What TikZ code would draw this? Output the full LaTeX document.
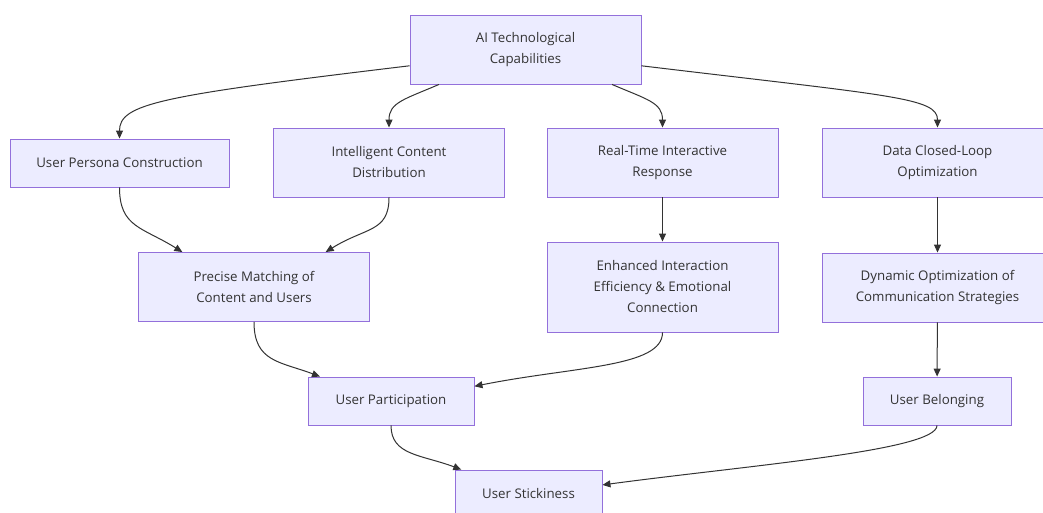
\documentclass[tikz,border=0pt]{standalone}
\usepackage{fontspec}
\setsansfont{Open Sans}
\usetikzlibrary{arrows.meta}
\definecolor{boxfill}{HTML}{ECECFF}
\definecolor{boxline}{HTML}{9370DB}
\definecolor{ink}{HTML}{333333}
\tikzset{
  box/.style={draw=boxline, fill=boxfill, line width=0.9pt, inner sep=0pt,
    align=center, text=ink, font=\sffamily\fontsize{13.3}{21}\selectfont},
  arr/.style={draw=ink, line width=1pt, -{Triangle[length=8pt,width=7pt]}}
}
\begin{document}
\begin{tikzpicture}[x=1pt, y=-1pt]
  \useasboundingbox[fill=white] (0,0) rectangle (1043,513);
  \clip (0,0) rectangle (1043,513);
  % first row
  \node[box, minimum width=231, minimum height=69] (ai) at (525.5,49.5) {AI Technological\\Capabilities};
  \node[box, minimum width=219, minimum height=48] (persona) at (119.5,163) {User Persona Construction};
  \node[box, minimum width=231, minimum height=69] (content) at (389,162.5) {Intelligent Content\\Distribution};
  \node[box, minimum width=231, minimum height=69] (realtime) at (662.5,162.5) {Real-Time Interactive\\Response};
  \node[box, minimum width=231, minimum height=69] (loop) at (937.5,162.5) {Data Closed-Loop\\Optimization};
  % second row
  \node[box, minimum width=231, minimum height=69] (matching) at (254,287) {Precise Matching of\\Content and Users};
  \node[box, minimum width=231, minimum height=90] (enhanced) at (662.5,287) {Enhanced Interaction\\Efficiency \& Emotional\\Connection};
  \node[box, minimum width=231, minimum height=69] (strategy) at (937.5,287.5) {Dynamic Optimization of\\Communication Strategies};
  % outcomes
  \node[box, minimum width=166, minimum height=48] (participation) at (391,401) {User Participation};
  \node[box, minimum width=148, minimum height=48] (belonging) at (937,401) {User Belonging};
  \node[box, minimum width=147, minimum height=48] (stickiness) at (528.5,494) {User Stickiness};

  \draw[arr] (ai.188) .. controls +(-250,30) and +(0,-35) .. (persona.north);
  \draw[arr] (ai.202) .. controls +(-35,15) and +(0,-25) .. (content.north);
  \draw[arr] (ai.-22) .. controls +(35,15) and +(0,-25) .. (realtime.north);
  \draw[arr] (ai.-8) .. controls +(250,30) and +(0,-30) .. (loop.north);
  \draw[arr] (persona.south) .. controls +(0,40) and +(-40,-25) .. (matching.154);
  \draw[arr] (content.south) .. controls +(0,35) and +(40,-25) .. (matching.26);
  \draw[arr] (realtime) -- (enhanced);
  \draw[arr] (loop) -- (strategy);
  \draw[arr] (matching.south) .. controls +(0,40) and +(-40,-15) .. (participation.161);
  \draw[arr] (enhanced.south) .. controls +(0,35) and +(100,-20) .. (participation.10);
  \draw[arr] (strategy) -- (belonging);
  \draw[arr] (participation.south) .. controls +(0,30) and +(-40,-15) .. (stickiness.160);
  \draw[arr] (belonging.south) .. controls +(0,25) and +(150,-20) .. (stickiness.7);
\end{tikzpicture}
\end{document}
